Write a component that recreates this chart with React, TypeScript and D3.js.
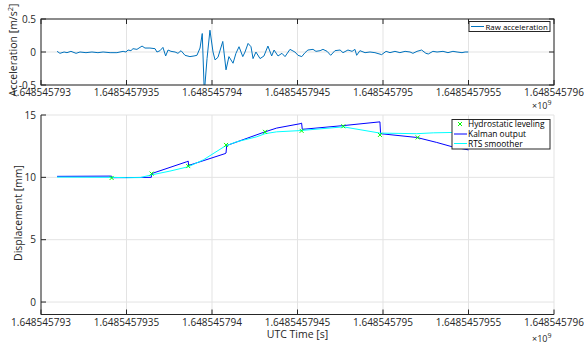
import React from "react";
import * as d3 from "d3";

const BASE = 1648545793;
const xTickOffsets = [0, 0.5, 1, 1.5, 2, 2.5, 3];
const xTickLabels = ["1.648545793", "1.6485457935", "1.648545794", "1.6485457945", "1.648545795", "1.6485457955", "1.648545796"];
const accTicks = [-0.5, 0, 0.5];
const accTickLabels = ["-0.5", "0", "0.5"];
const dispTicks = [0, 5, 10, 15];

const accT = [0.094,0.111,0.135,0.152,0.175,0.205,0.228,0.263,0.298,0.333,0.363,0.404,0.444,0.480,0.497,0.509,0.526,0.538,0.561,0.591,0.608,0.637,0.667,0.678,0.696,0.713,0.729,0.743,0.760,0.784,0.801,0.819,0.842,0.871,0.895,0.912,0.930,0.943,0.955,0.971,0.988,1.006,1.018,1.035,1.063,1.082,1.099,1.123,1.140,1.158,1.180,1.193,1.211,1.228,1.240,1.257,1.281,1.304,1.327,1.349,1.363,1.386,1.409,1.427,1.456,1.485,1.503,1.525,1.544,1.561,1.591,1.608,1.632,1.649,1.673,1.694,1.719,1.749,1.766,1.795,1.819,1.836,1.846,1.865,1.895,1.924,1.953,1.992,2.018,2.041,2.070,2.099,2.129,2.158,2.175,2.199,2.226,2.251,2.265,2.292,2.316,2.351,2.380,2.409,2.433,2.462,2.480,2.499];
const accV = [0.01,-0.02,0.0,-0.01,0.01,-0.02,0.0,-0.01,0.0,-0.01,0.0,-0.01,-0.01,0.01,0.0,0.03,0.02,0.05,0.04,0.09,0.06,0.06,0.05,0.0,0.02,0.07,-0.06,0.03,0.01,0.0,-0.02,0.02,-0.05,-0.07,-0.06,-0.05,0.06,0.28,-0.62,-0.1,0.33,0.0,-0.12,-0.08,0.16,-0.27,-0.07,-0.17,-0.02,0.08,-0.07,0.0,0.13,0.08,-0.1,0.0,-0.1,-0.06,0.09,-0.06,0.03,-0.06,-0.02,-0.07,0.04,0.0,-0.05,-0.07,-0.01,0.03,0.04,0.01,0.02,0.04,0.01,-0.05,0.02,0.03,-0.01,0.03,0.01,0.04,-0.05,0.02,-0.01,0.0,-0.01,-0.04,0.01,-0.01,0.01,-0.01,0.01,0.0,-0.02,0.01,0.03,-0.02,-0.03,0.01,0.0,0.01,-0.01,0.01,0.0,-0.01,0.0,0.0];

const hydroT = [0.413, 0.647, 0.861, 1.082, 1.310, 1.524, 1.768, 1.982, 2.203];
const hydroV = [9.95, 10.3, 10.9, 12.6, 13.65, 13.73, 14.1, 13.4, 13.2];

const kalT = [0.094, 0.413, 0.415, 0.645, 0.647, 0.852, 0.861, 0.863, 1.076, 1.082, 1.086, 1.310, 1.378, 1.515, 1.524, 1.528, 1.768, 1.982, 1.986, 2.197, 2.314, 2.405, 2.5];
const kalV = [10.08, 10.1, 9.97, 10.0, 10.3, 11.25, 11.3, 10.95, 11.9, 11.95, 12.55, 13.65, 13.95, 14.3, 14.35, 13.85, 14.15, 14.45, 13.5, 13.2, 12.8, 12.45, 12.2];

const rtsT = [0.094, 0.413, 0.5, 0.58, 0.647, 0.754, 0.861, 0.949, 1.076, 1.144, 1.261, 1.310, 1.378, 1.515, 1.768, 1.982, 2.197, 2.294, 2.405, 2.5];
const rtsV = [10.02, 10.0, 9.97, 9.98, 10.2, 10.5, 10.85, 11.4, 12.5, 12.85, 13.25, 13.5, 13.65, 13.75, 14.05, 13.55, 13.5, 13.57, 13.6, 13.62];

const FONT = "'Open Sans', sans-serif";
const AX = "#262626";
const GRID = "#e3e3e3";

export default function App() {
  const left = 41, right = 554;
  const x = d3.scaleLinear().domain([0, 3]).range([left, right]);
  const yA = d3.scaleLinear().domain([-0.5, 0.5]).range([85, 19]);
  const yD = d3.scaleLinear().domain([-1, 15]).range([314.5, 115]);

  const accLine = d3.line<number>().x((_, i) => x(accT[i])).y((v) => yA(v));
  const kalLine = d3.line<number>().x((_, i) => x(kalT[i])).y((v) => yD(v));
  const rtsLine = d3.line<number>().x((_, i) => x(rtsT[i])).y((v) => yD(v));

  const tickLen = 5;

  return (
    <svg width={584} height={345} style={{ position: "absolute", left: 0, top: 0, background: "#fff" }} fontFamily={FONT}>
      <defs>
        <clipPath id="clipA"><rect x={left} y={19} width={right - left} height={66} /></clipPath>
        <clipPath id="clipD"><rect x={left} y={115} width={right - left} height={199.5} /></clipPath>
      </defs>
      <rect width={584} height={345} fill="#fff" />

      {/* ===== Top axes ===== */}
      {xTickOffsets.map((t, i) => (
        <line key={"ga" + i} x1={x(t)} x2={x(t)} y1={19} y2={85} stroke={GRID} strokeWidth={1} />
      ))}
      {accTicks.map((t, i) => (
        <line key={"gya" + i} x1={left} x2={right} y1={yA(t)} y2={yA(t)} stroke={GRID} strokeWidth={1} />
      ))}
      <path d={accLine(accV) || ""} fill="none" stroke="#0072BD" strokeWidth={1} clipPath="url(#clipA)" />
      <rect x={left} y={19} width={right - left} height={66} fill="none" stroke={AX} strokeWidth={1} />
      {xTickOffsets.map((t, i) => (
        <g key={"ta" + i}>
          <line x1={x(t)} x2={x(t)} y1={85} y2={85 - tickLen} stroke={AX} />
          <line x1={x(t)} x2={x(t)} y1={19} y2={19 + tickLen} stroke={AX} />
          <text x={x(t)} y={95.5} fontSize={10} textAnchor="middle" fill={AX}>{xTickLabels[i]}</text>
        </g>
      ))}
      {accTicks.map((t, i) => (
        <g key={"tya" + i}>
          <line x1={left} x2={left + tickLen} y1={yA(t)} y2={yA(t)} stroke={AX} />
          <line x1={right} x2={right - tickLen} y1={yA(t)} y2={yA(t)} stroke={AX} />
          <text x={36} y={yA(t) + 3.5} fontSize={10} textAnchor="end" fill={AX}>{accTickLabels[i]}</text>
        </g>
      ))}
      <text x={532} y={109} fontSize={9} fill={AX}>×10<tspan dy={-4} fontSize={7}>9</tspan></text>
      <text transform={`translate(17,50) rotate(-90)`} fontSize={10.5} textAnchor="middle" fill={AX}>
        Acceleration [m/s<tspan dy={-4} fontSize={7.5}>2</tspan><tspan dy={4}>]</tspan>
      </text>
      {/* top legend */}
      <rect x={469} y={21.5} width={81} height={10} fill="#fff" stroke={AX} strokeWidth={1} />
      <line x1={471} x2={484} y1={26.5} y2={26.5} stroke="#0072BD" strokeWidth={1} />
      <text x={485.5} y={29.6} fontSize={7.9} fill="#000">Raw acceleration</text>

      {/* ===== Bottom axes ===== */}
      {xTickOffsets.map((t, i) => (
        <line key={"gd" + i} x1={x(t)} x2={x(t)} y1={115} y2={314.5} stroke={GRID} strokeWidth={1} />
      ))}
      {dispTicks.map((t, i) => (
        <line key={"gyd" + i} x1={left} x2={right} y1={yD(t)} y2={yD(t)} stroke={GRID} strokeWidth={1} />
      ))}
      <g clipPath="url(#clipD)">
        <path d={kalLine(kalV) || ""} fill="none" stroke="#0000ff" strokeWidth={1} />
        <path d={rtsLine(rtsV) || ""} fill="none" stroke="#00ffff" strokeWidth={1} />
        {hydroV.map((v, i) => {
          const cx = x(hydroT[i]), cy = yD(v), s = 2;
          return (
            <g key={"h" + i} stroke="#00ff00" strokeWidth={1}>
              <line x1={cx - s} x2={cx + s} y1={cy - s} y2={cy + s} />
              <line x1={cx - s} x2={cx + s} y1={cy + s} y2={cy - s} />
            </g>
          );
        })}
      </g>
      <line x1={left} x2={right} y1={314.5} y2={314.5} stroke={AX} />
      <line x1={left} x2={left} y1={115} y2={314.5} stroke={AX} />
      {xTickOffsets.map((t, i) => (
        <g key={"td" + i}>
          <line x1={x(t)} x2={x(t)} y1={314.5} y2={314.5 - tickLen} stroke={AX} />
          <text x={x(t)} y={325.5} fontSize={10} textAnchor="middle" fill={AX}>{xTickLabels[i]}</text>
        </g>
      ))}
      {dispTicks.map((t, i) => (
        <g key={"tyd" + i}>
          <line x1={left} x2={left + tickLen} y1={yD(t)} y2={yD(t)} stroke={AX} />
          <text x={36} y={yD(t) + 3.5} fontSize={10} textAnchor="end" fill={AX}>{t}</text>
        </g>
      ))}
      <text x={532} y={342} fontSize={9} fill={AX}>×10<tspan dy={-4} fontSize={7}>9</tspan></text>
      <text x={(left + right) / 2} y={338} fontSize={10.5} textAnchor="middle" fill={AX}>UTC Time [s]</text>
      <text transform={`translate(22,213) rotate(-90)`} fontSize={10.5} textAnchor="middle" fill={AX}>Displacement [mm]</text>

      {/* bottom legend */}
      <rect x={452} y={119.5} width={98} height={29.5} fill="#fff" stroke={AX} strokeWidth={1} />
      <g stroke="#00ff00" strokeWidth={1}>
        <line x1={458} x2={462} y1={122} y2={126} />
        <line x1={458} x2={462} y1={126} y2={122} />
      </g>
      <text x={468} y={127.3} fontSize={8.4} fill="#000">Hydrostatic leveling</text>
      <line x1={454} x2={467} y1={134} y2={134} stroke="#0000ff" strokeWidth={1} />
      <text x={468} y={137} fontSize={8.4} fill="#000">Kalman output</text>
      <line x1={454} x2={467} y1={143.5} y2={143.5} stroke="#00ffff" strokeWidth={1} />
      <text x={468} y={146.5} fontSize={8.4} fill="#000">RTS smoother</text>
    </svg>
  );
}
